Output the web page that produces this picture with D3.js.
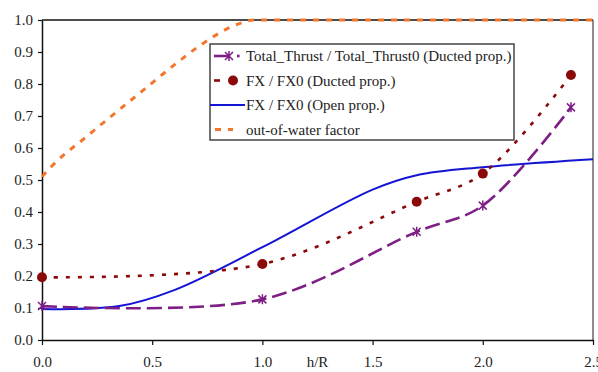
<!DOCTYPE html>
<html>
<head>
<meta charset="utf-8">
<script src="https://cdn.jsdelivr.net/npm/d3@7"></script>
<style>
  body { margin: 0; background: #fff; }
  svg text { font-family: "Times New Roman", Tinos, "Liberation Serif", "Noto Serif", "DejaVu Serif", serif; fill: #222; }
</style>
</head>
<body>
<svg id="chart" width="598" height="372"></svg>
<script>
// values
const xTicks = [0, 0.5, 1.0, 1.5, 2.0, 2.5];
const yTicks = [0, 0.1, 0.2, 0.3, 0.4, 0.5, 0.6, 0.7, 0.8, 0.9, 1.0];

const thrustX = [0, 1.0, 1.7, 2.0, 2.4];
const thrustY = [0.106, 0.127, 0.338, 0.42, 0.727];

const fxDuctX = [0, 1.0, 1.7, 2.0, 2.4];
const fxDuctY = [0.196, 0.2375, 0.432, 0.52, 0.828];

const fxOpenX = [0, 0.35, 0.6, 1.0, 1.5, 1.7, 2.0, 2.5];
const fxOpenY = [0.097, 0.106, 0.156, 0.29, 0.47, 0.515, 0.54, 0.565];

const waterX = [0, 0.05, 0.21, 0.46, 0.61, 0.71, 0.91, 0.96, 1.5, 2.0, 2.5];
const waterY = [0.51, 0.547, 0.64, 0.781, 0.865, 0.917, 0.992, 1.0, 1.0, 1.0, 1.0];

const legendLabels = [
  'Total_Thrust / Total_Thrust0 (Ducted prop.)',
  'FX / FX0 (Ducted prop.)',
  'FX / FX0 (Open prop.)',
  'out-of-water factor'
];

const svg = d3.select('#chart');
const width = 598, height = 372;
const margin = { top: 20, right: 5, bottom: 32, left: 42 };
const serif = '"Times New Roman", Tinos, "Liberation Serif", "Noto Serif", "DejaVu Serif", serif';

const x = d3.scaleLinear().domain([0, 2.5]).range([margin.left, width - margin.right]);
const y = d3.scaleLinear().domain([0, 1]).range([height - margin.bottom, margin.top]);

const zip = (xs, ys) => xs.map((v, i) => [v, ys[i]]);

// frame (top + right)
svg.append('line').attr('x1', x(0)).attr('x2', x(2.5)).attr('y1', y(1)).attr('y2', y(1))
  .attr('stroke', '#111').attr('stroke-width', 1.5);
svg.append('line').attr('x1', x(2.5)).attr('x2', x(2.5)).attr('y1', y(1)).attr('y2', y(0))
  .attr('stroke', '#666').attr('stroke-width', 1.5);

// axes
const xAxis = svg.append('g').attr('transform', `translate(0,${y(0)})`)
  .call(d3.axisBottom(x).tickValues(xTicks).tickFormat(d3.format('.1f')).tickSizeInner(5).tickSizeOuter(0).tickPadding(11));
const yAxis = svg.append('g').attr('transform', `translate(${x(0)},0)`)
  .call(d3.axisLeft(y).tickValues(yTicks).tickFormat(d3.format('.1f')).tickSizeInner(4).tickSizeOuter(0).tickPadding(5));
[xAxis, yAxis].forEach(g => {
  g.attr('font-family', null).attr('font-size', null);
  g.select('.domain').attr('stroke', '#111').attr('stroke-width', 1.5);
  g.selectAll('.tick line').attr('stroke', '#111').attr('stroke-width', 1.2);
  g.selectAll('.tick text').style('font-size', '15px').attr('fill', '#222');
});

svg.append('text').attr('x', x(1.25)).attr('y', y(0) + 27)
  .attr('text-anchor', 'middle').style('font-size', '15px').text('h/R');

const styles = [
  { color: '#7e1f86', dash: '15,6', w: 2.6, marker: 'star', pts: zip(thrustX, thrustY), curve: d3.curveCatmullRom },
  { color: '#8a0a0a', dash: '4,8', w: 2.6, marker: 'circle', pts: zip(fxDuctX, fxDuctY), curve: d3.curveCatmullRom },
  { color: '#1414d4', dash: null, w: 2, marker: null, pts: zip(fxOpenX, fxOpenY), curve: d3.curveCatmullRom },
  { color: '#f2762e', dash: '6,7', w: 3, marker: null, pts: zip(waterX, waterY), curve: d3.curveMonotoneX }
];

const starPath = 'M-4,-4L4,4M-4,4L4,-4M0,-5L0,5';

// draw lines (orange first at back)
styles.slice().reverse().forEach(s => {
  const line = d3.line().x(d => x(d[0])).y(d => y(d[1])).curve(s.curve);
  svg.append('path').datum(s.pts).attr('d', line)
    .attr('fill', 'none').attr('stroke', s.color).attr('stroke-width', s.w)
    .attr('stroke-dasharray', s.dash);
  if (s.marker === 'circle') {
    svg.selectAll(null).data(s.pts).enter().append('circle')
      .attr('cx', d => x(d[0])).attr('cy', d => y(d[1])).attr('r', 5).attr('fill', s.color);
  } else if (s.marker === 'star') {
    svg.selectAll(null).data(s.pts).enter().append('path')
      .attr('transform', d => `translate(${x(d[0])},${y(d[1])})`)
      .attr('d', starPath).attr('stroke', s.color).attr('stroke-width', 1.5).attr('fill', 'none');
  }
});

// legend
const leg = svg.append('g').attr('transform', 'translate(210,44)');
leg.append('rect').attr('width', 304).attr('height', 96)
  .attr('fill', '#fff').attr('stroke', '#444').attr('stroke-width', 1.5);
styles.forEach((s, i) => {
  const cy = 12 + i * 24.5;
  const row = leg.append('g').attr('transform', `translate(0,${cy})`);
  if (s.marker === 'star') {
    row.append('line').attr('x1', 4).attr('x2', 20).attr('stroke', s.color).attr('stroke-width', s.w);
    row.append('path').attr('transform', 'translate(19,0)').attr('d', starPath)
      .attr('stroke', s.color).attr('stroke-width', 1.5).attr('fill', 'none');
    row.append('rect').attr('x', 27).attr('y', -1.3).attr('width', 2.6).attr('height', 2.6).attr('fill', s.color);
  } else if (s.marker === 'circle') {
    row.append('line').attr('x1', 4).attr('x2', 10).attr('stroke', s.color).attr('stroke-width', s.w);
    row.append('circle').attr('cx', 23).attr('r', 5).attr('fill', s.color);
  } else if (s.dash) {
    row.append('line').attr('x1', 5).attr('x2', 23).attr('stroke', s.color).attr('stroke-width', s.w)
      .attr('stroke-dasharray', s.dash);
  } else {
    row.append('line').attr('x1', 0).attr('x2', 35).attr('stroke', s.color).attr('stroke-width', s.w);
  }
  const t = row.append('text').attr('x', 36).attr('dy', '0.35em')
    .style('font-size', '15px').text(legendLabels[i]);
  // the reference text runs a little wide; stretch the first row to its measured span
  if (i === 0) {
    const w = t.node().getComputedTextLength();
    if (w < 264) t.attr('textLength', 264).attr('lengthAdjust', 'spacingAndGlyphs');
  }
});
</script>
</body>
</html>
